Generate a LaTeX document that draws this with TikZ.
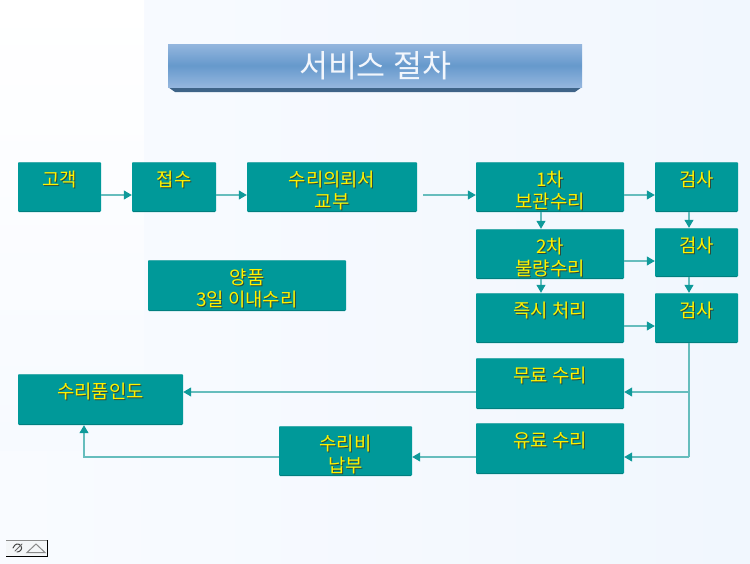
\documentclass[tikz,border=0pt]{standalone}
\usepackage{fontspec}
\setmainfont{Noto Sans CJK KR}
\usetikzlibrary{arrows.meta,calc}
\definecolor{teal0}{HTML}{009999}
\definecolor{tealtop}{HTML}{3FAEAE}
\definecolor{tealbot}{HTML}{007F7F}
\definecolor{wire}{HTML}{66BDBD}
\definecolor{tip}{HTML}{0F9A9A}
\definecolor{shade}{HTML}{2F4A3A}
\definecolor{bgl}{HTML}{F9FBFF}
\definecolor{bgr}{HTML}{F1F7FE}
\definecolor{bgm}{HTML}{F7FAFF}
\definecolor{ttlbev}{HTML}{3F6488}
\definecolor{ttledge}{HTML}{94B6DE}
\definecolor{ttlmid}{HTML}{6699CC}
\definecolor{ttltext}{HTML}{F2F6FC}
\definecolor{icbg}{HTML}{F4F6F8}
\definecolor{icgray}{HTML}{8A8A8A}
\definecolor{icdark}{HTML}{444444}
\definecolor{icmid}{HTML}{666666}
\tikzset{
  box/.style={fill=teal0,draw=none,rounded corners=1.2pt,inner sep=0pt},
  lbl/.style={anchor=north,inner sep=0pt,align=center,text=yellow,font=\fontsize{18.8}{22}\selectfont},
  lblsh/.style={lbl,text=shade},
  wirel/.style={draw=wire,line width=1.1pt,-{Triangle[length=8pt,width=9pt,color=tip]}},
  wireplain/.style={draw=wire,line width=1.1pt},
}
\newcommand{\mkbox}[6]{% name, x0,y0,x1,y1, text
  \path[box] (#2,#3) rectangle (#4,#5);
  \node[inner sep=0pt,minimum width=#4pt-#2pt,minimum height=#5pt-#3pt] (#1) at ($(#2,#3)!.5!(#4,#5)$) {};
  \draw[tealtop,line width=.7pt] (#2+1,#3+.4) -- (#4-1,#3+.4);
  \draw[tealbot,line width=.7pt] (#2+1,#5-.4) -- (#4-1,#5-.4);
  \node[lblsh] at ([xshift=1pt,yshift=-9.5pt]#1.north) {#6};
  \node[lbl] (#1t) at ([yshift=-8.5pt]#1.north) {#6};
}
\begin{document}
\begin{tikzpicture}[x=1pt,y=-1pt]
\useasboundingbox (0,0) rectangle (750,563);
% background
\shade[left color=bgl,right color=bgr] (0,0) rectangle (750,563);
\shade[top color=white,bottom color=bgm] (0,0) rectangle (144,450);
% title
\fill[ttlbev] (168,87) -- (582,87) -- (575,92) -- (175,92) -- cycle;
\shade[top color=ttledge,bottom color=ttledge,middle color=ttlmid] (168,44) rectangle (582,87);
\node[inner sep=0pt,text=ttltext,font=\fontsize{31.5}{34}\selectfont] (title) at (375,66) {서비스 절차};
% boxes
\mkbox{a}{18}{162}{101}{212}{고객}
\mkbox{b}{132}{162}{216}{212}{접수}
\mkbox{c}{247}{162}{417}{212}{수리의뢰서\\교부}
\mkbox{d}{476}{162}{624}{212}{1차\\보관수리}
\mkbox{e}{655}{162}{738}{212}{검사}
\mkbox{f}{476}{229}{624}{279}{2차\\불량수리}
\mkbox{g}{655}{228}{738}{277}{검사}
\mkbox{h}{476}{293}{624}{343}{즉시 처리}
\mkbox{i}{655}{293}{738}{343}{검사}
\mkbox{j}{476}{358}{624}{409}{무료 수리}
\mkbox{k}{476}{423}{624}{474}{유료 수리}
\mkbox{l}{18}{374}{183}{425}{수리품인도}
\mkbox{m}{279}{426}{412}{476}{수리비\\납부}
\mkbox{n}{148}{260}{346}{311}{양품\\3일 이내수리}
% helper coordinates
\coordinate (r1) at (0,195);
\coordinate (r2) at (0,261);
\coordinate (r3) at (0,326);
\coordinate (r4) at (0,392);
\coordinate (r5) at (0,457);
\coordinate (v1) at (541,0);
\coordinate (v2) at (689,0);
\coordinate (v3) at (84,0);
\coordinate (cs) at (423,195);
% connectors
\draw[wirel] (a.east |- r1) -- (b.west |- r1);
\draw[wirel] (b.east |- r1) -- (c.west |- r1);
\draw[wirel] (cs) -- (d.west |- r1);
\draw[wirel] (d.east |- r1) -- (e.west |- r1);
\draw[wirel] (v1 |- d.south) -- (v1 |- f.north);
\draw[wirel] (v1 |- f.south) -- (v1 |- h.north);
\draw[wirel] (v2 |- e.south) -- (v2 |- g.north);
\draw[wirel] (v2 |- g.south) -- (v2 |- i.north);
\draw[wirel] (f.east |- r2) -- (g.west |- r2);
\draw[wirel] (h.east |- r3) -- (i.west |- r3);
\draw[wireplain] (v2 |- i.south) -- (v2 |- r5);
\draw[wirel] (v2 |- r4) -- (j.east |- r4);
\draw[wirel] (v2 |- r5) -- (k.east |- r5);
\draw[wirel] (j.west |- r4) -- (l.east |- r4);
\draw[wirel] (k.west |- r5) -- (m.east |- r5);
\draw[wirel] (m.west |- r5) -- (v3 |- r5) -- (v3 |- l.south);
% small icon
\fill[icbg] (6,540) rectangle (48,557);
\draw[black,line width=1pt] (6,556.5) -- (47.5,556.5) -- (47.5,540);
\draw[icgray,line width=.6pt] (6,540) -- (47,540);
\draw[icgray,line width=1pt] (27,552.5) -- (45,552.5) -- (36,544) -- cycle;
\draw[icdark,line width=1pt,line cap=round] (13,548) .. controls (15,543) and (19,543) .. (21,546) .. controls (23,549) and (20,552) .. (17,552);
\draw[icmid,line width=1pt,line cap=round] (15,551) .. controls (18,548) and (20,546) .. (22,544);
\end{tikzpicture}
\end{document}
